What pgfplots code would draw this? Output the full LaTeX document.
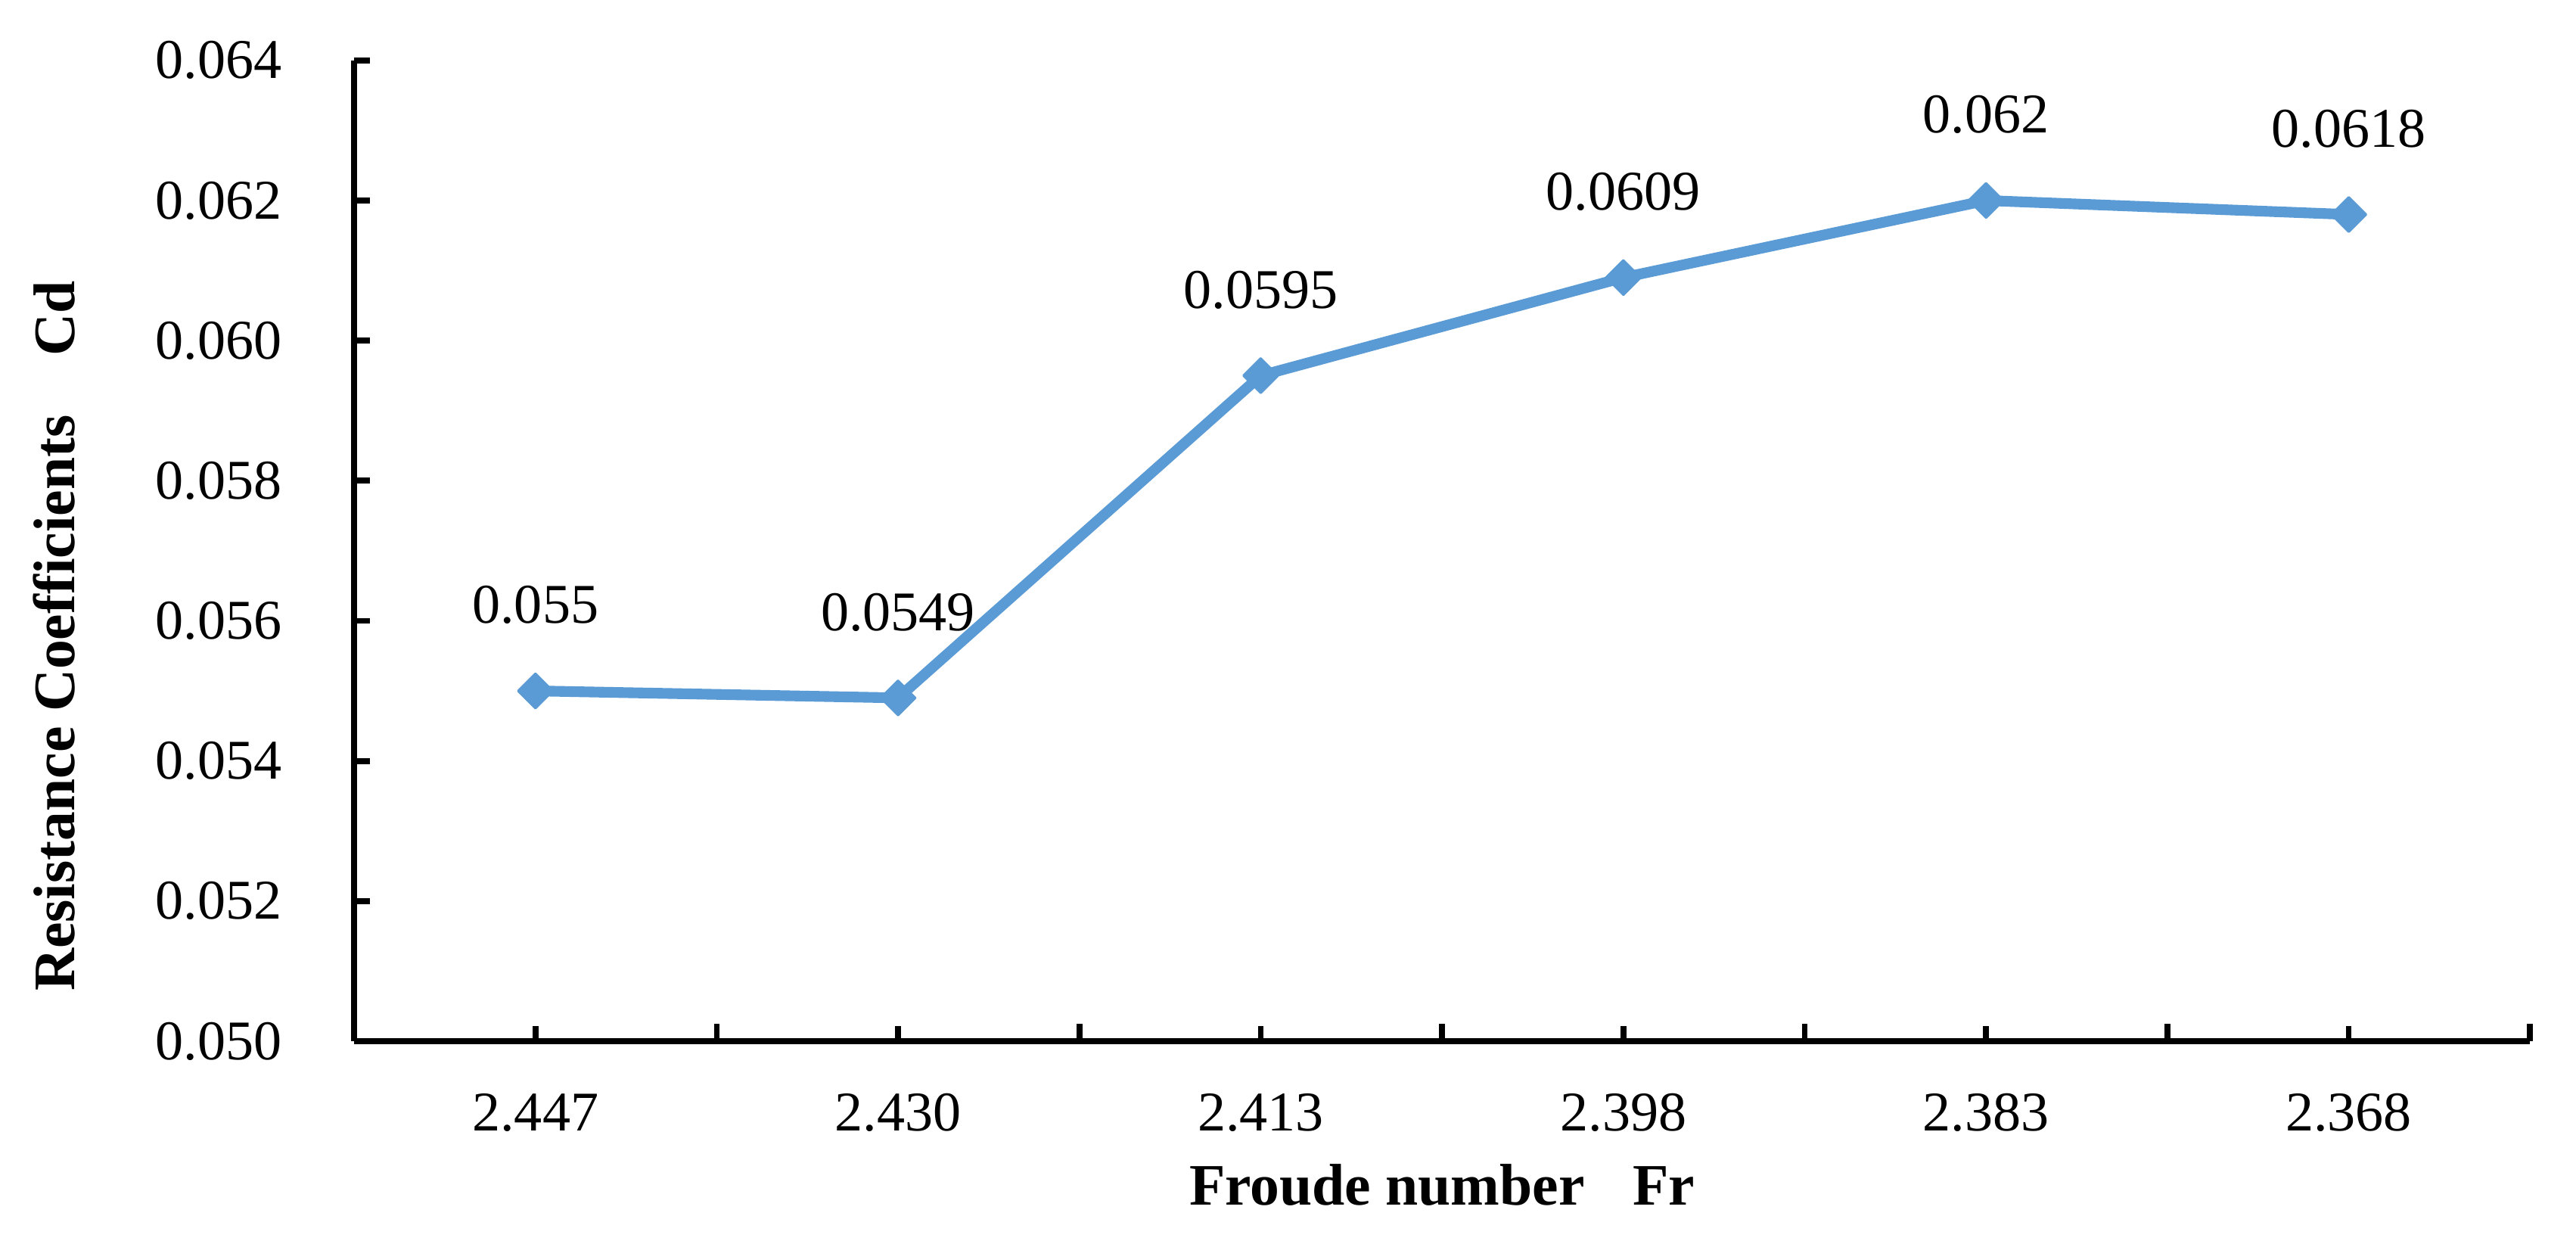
\documentclass[border=0pt]{standalone}
\usepackage{fontspec}
\setmainfont{Liberation Serif}
\usepackage{pgfplots}
\pgfplotsset{compat=1.18}
\definecolor{lineblue}{HTML}{5B9BD5}
\begin{document}
\begin{tikzpicture}
\begin{axis}[
  scale only axis,
  width=407.4pt, height=183.6pt,
  at={(0,0)}, anchor=south west,
  xmin=-0.5, xmax=5.5, ymin=0.050, ymax=0.064,
  axis x line=bottom, axis y line=left,
  axis line style={-, line width=1.15pt, black},
  xtick={0,1,2,3,4,5},
  xticklabels={2.447,2.430,2.413,2.398,2.383,2.368},
  minor xtick={-0.5,0.5,1.5,2.5,3.5,4.5,5.5},
  ytick={0.050,0.052,0.054,0.056,0.058,0.060,0.062,0.064},
  scaled y ticks=false,
  yticklabel style={/pgf/number format/fixed, /pgf/number format/fixed zerofill, /pgf/number format/precision=3, xshift=-10pt},
  /pgf/number format/assume math mode=true,
  tick align=inside,
  major tick length=2.9pt, minor tick length=3.3pt,
  every tick/.style={black, line width=1.1pt},
  tick label style={font=\fontsize{10.5}{12}\selectfont},
  xticklabel style={yshift=-6.3pt},
  xlabel={Froude number\hspace{9pt}Fr},
  ylabel={Resistance Coefficients\hspace{11pt}Cd},
  label style={font=\fontsize{11}{13}\selectfont\bfseries},
  xlabel style={at={(axis description cs:0.5,-0.1672)}, anchor=base},
  ylabel style={at={(axis description cs:-0.1286,0.413)}, anchor=base},
  clip=false,
]
\addplot[color=lineblue, line width=2pt, line join=round,
  mark=square*, mark size=2.3pt,
  mark options={rotate=45, solid, line width=0.4pt, fill=lineblue, draw=lineblue},
  nodes near coords, point meta=explicit symbolic,
  every node near coord/.append style={font=\fontsize{10.5}{12}\selectfont, text=black, anchor=south, inner sep=0pt, yshift=12.3pt}]
  table[meta=label] {
x y label
0 0.0550 0.055
1 0.0549 0.0549
2 0.0595 0.0595
3 0.0609 0.0609
4 0.0620 0.062
5 0.0618 0.0618
};
\end{axis}
\pgfresetboundingbox
\path[use as bounding box] (-66.3pt,-38.5pt) rectangle (416.0pt,194.9pt);
\end{tikzpicture}
\end{document}
